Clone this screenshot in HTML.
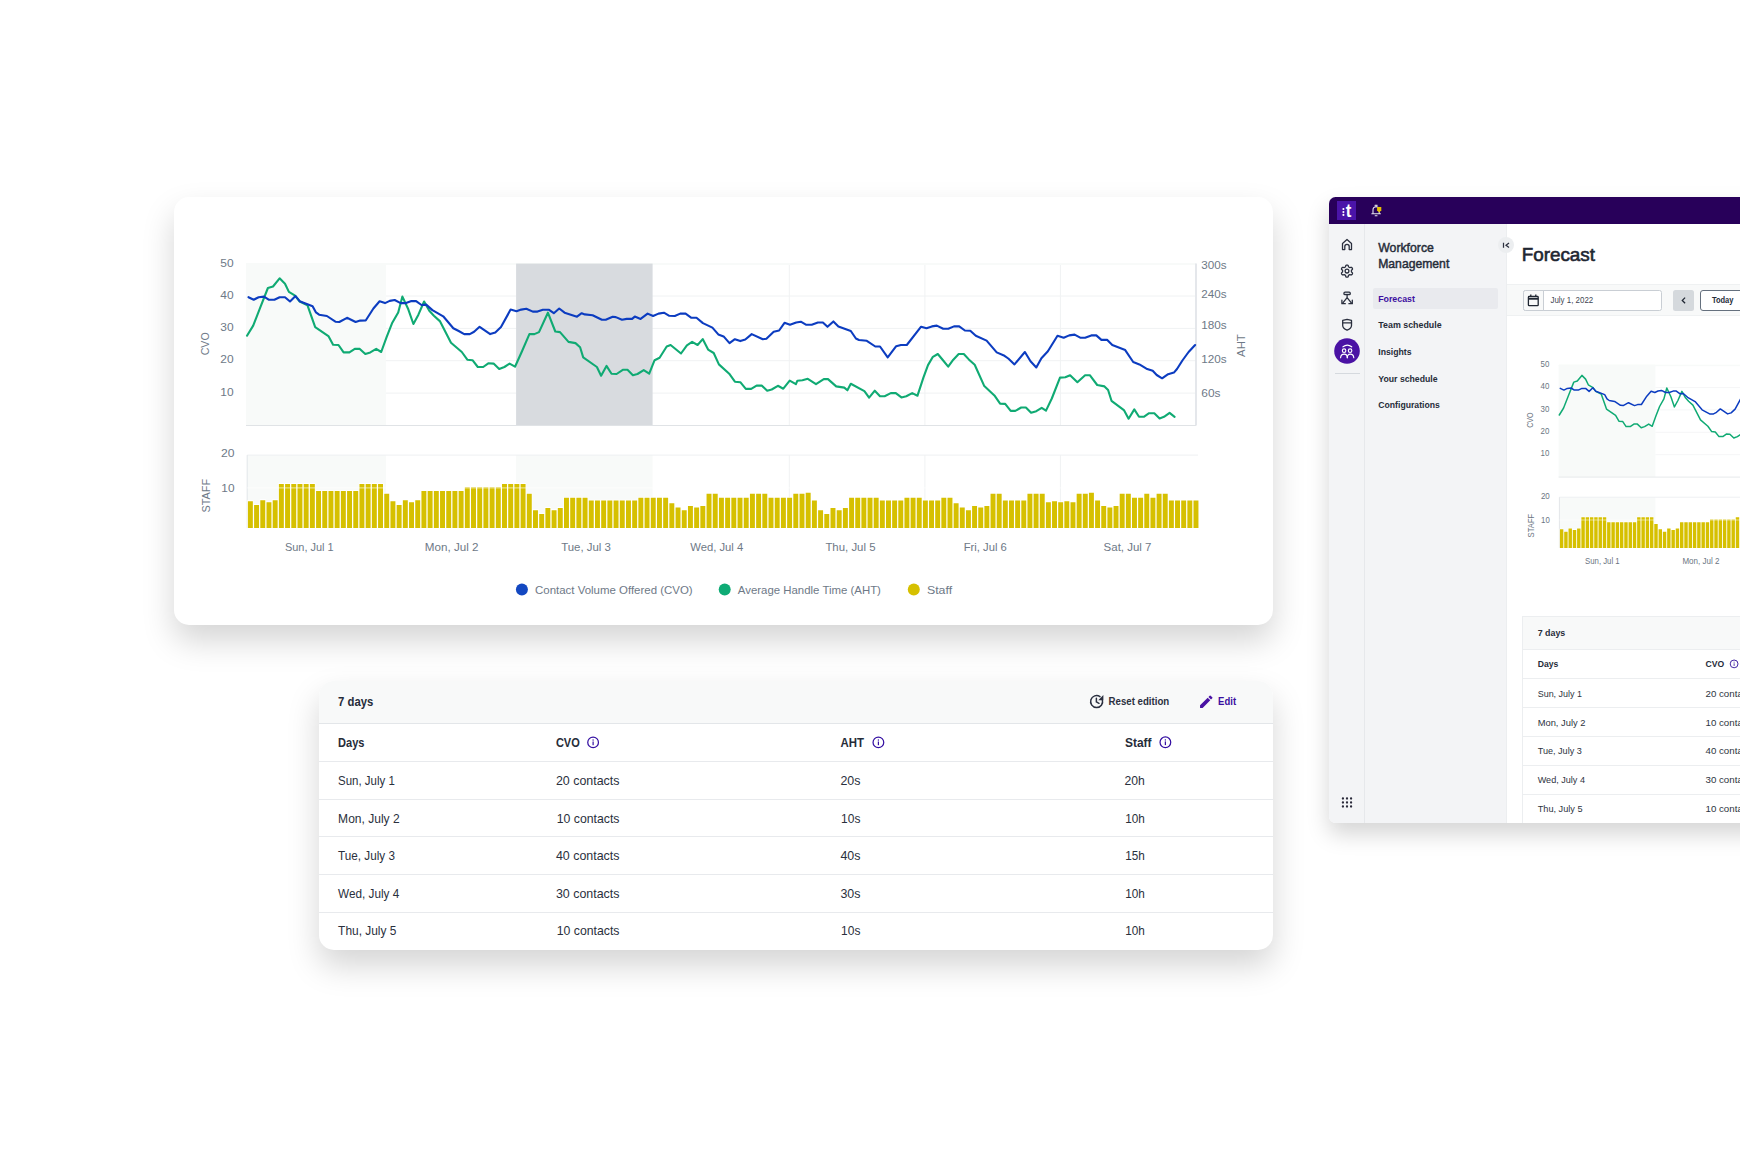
<!DOCTYPE html>
<html><head><meta charset="utf-8"><title>Forecast</title>
<style>
html,body{margin:0;padding:0;background:#fff}
body{width:1740px;height:1160px;position:relative;overflow:hidden;font-family:"Liberation Sans", sans-serif}
svg text{font-family:"Liberation Sans", sans-serif}
.card{position:absolute;background:#fff;border-radius:15px;box-shadow:0 16px 32px rgba(0,0,0,0.167)}
.c{position:absolute;font-size:11.7px;line-height:20px;color:#2a313e;white-space:nowrap}
.c.b{font-weight:bold;color:#222a36;font-size:11.2px;letter-spacing:-0.1px}
.c.s{font-size:10px;letter-spacing:-0.2px}
.c.p{color:#4a1aa3}
.t{position:absolute;white-space:nowrap}
</style></head><body>
<div class="card" style="left:174px;top:197px;width:1099px;height:428px">
<svg style="position:absolute;left:0;top:0" width="1099" height="428" viewBox="174 197 1099 428">
<rect x="246.0" y="262.9" width="950.0" height="2.1" fill="#f8faf9"/>
<rect x="246.0" y="262.9" width="139.9" height="162.6" fill="#f8faf9"/>
<rect x="247.2" y="455.1" width="138.7" height="72.8" fill="#f8faf9"/>
<line x1="385.9" x2="1196.0" y1="296.0" y2="296.0" stroke="#f0f2f3" stroke-width="1"/>
<line x1="385.9" x2="1196.0" y1="328.4" y2="328.4" stroke="#f0f2f3" stroke-width="1"/>
<line x1="385.9" x2="1196.0" y1="360.7" y2="360.7" stroke="#f0f2f3" stroke-width="1"/>
<line x1="385.9" x2="1196.0" y1="393.1" y2="393.1" stroke="#f0f2f3" stroke-width="1"/>
<line x1="789.3" x2="789.3" y1="265.0" y2="425.5" stroke="#f0f2f3" stroke-width="1"/>
<line x1="789.3" x2="789.3" y1="455.1" y2="527.9" stroke="#f0f2f3" stroke-width="1"/>
<line x1="924.9" x2="924.9" y1="265.0" y2="425.5" stroke="#f0f2f3" stroke-width="1"/>
<line x1="924.9" x2="924.9" y1="455.1" y2="527.9" stroke="#f0f2f3" stroke-width="1"/>
<line x1="1060.4" x2="1060.4" y1="265.0" y2="425.5" stroke="#f0f2f3" stroke-width="1"/>
<line x1="1060.4" x2="1060.4" y1="455.1" y2="527.9" stroke="#f0f2f3" stroke-width="1"/>
<rect x="516.1" y="263.6" width="136.5" height="161.9" fill="#d8dbdf"/>
<rect x="516.1" y="455.1" width="136.5" height="72.8" fill="#f8faf9"/>
<line x1="246.0" x2="1196.0" y1="425.5" y2="425.5" stroke="#e0e3e6" stroke-width="1"/>
<line x1="1196.0" x2="1196.0" y1="263.6" y2="425.5" stroke="#e2e5e9" stroke-width="1.8"/>
<line x1="247.2" x2="1198.0" y1="455.1" y2="455.1" stroke="#eef0f2" stroke-width="1"/>
<line x1="247.2" x2="247.2" y1="455.1" y2="527.9" stroke="#e3e6e9" stroke-width="1"/>
<path d="M247.30 527.9V500.3H253.45V527.9ZM253.50 527.9V504.0H259.65V527.9ZM259.70 527.9V499.3H265.85V527.9ZM265.89 527.9V501.4H272.04V527.9ZM272.09 527.9V499.3H278.24V527.9ZM278.29 527.9V483.1H284.44V527.9ZM284.49 527.9V483.1H290.64V527.9ZM290.69 527.9V483.1H296.84V527.9ZM296.88 527.9V483.1H303.03V527.9ZM303.08 527.9V483.1H309.23V527.9ZM309.28 527.9V483.1H315.43V527.9ZM315.48 527.9V490.1H321.63V527.9ZM321.68 527.9V490.1H327.83V527.9ZM327.87 527.9V490.1H334.02V527.9ZM334.07 527.9V490.1H340.22V527.9ZM340.27 527.9V490.1H346.42V527.9ZM346.47 527.9V490.1H352.62V527.9ZM352.67 527.9V490.1H358.82V527.9ZM358.86 527.9V483.1H365.01V527.9ZM365.06 527.9V483.1H371.21V527.9ZM371.26 527.9V483.1H377.41V527.9ZM377.46 527.9V483.1H383.61V527.9ZM383.66 527.9V492.9H389.81V527.9ZM389.85 527.9V500.3H396.00V527.9ZM396.05 527.9V504.0H402.20V527.9ZM402.25 527.9V499.3H408.40V527.9ZM408.45 527.9V501.4H414.60V527.9ZM414.65 527.9V499.3H420.80V527.9ZM420.84 527.9V490.1H426.99V527.9ZM427.04 527.9V490.1H433.19V527.9ZM433.24 527.9V490.1H439.39V527.9ZM439.44 527.9V490.1H445.59V527.9ZM445.64 527.9V490.1H451.79V527.9ZM451.83 527.9V490.1H457.98V527.9ZM458.03 527.9V490.1H464.18V527.9ZM464.23 527.9V486.3H470.38V527.9ZM470.43 527.9V486.3H476.58V527.9ZM476.63 527.9V486.3H482.78V527.9ZM482.82 527.9V486.3H488.97V527.9ZM489.02 527.9V486.3H495.17V527.9ZM495.22 527.9V486.3H501.37V527.9ZM501.42 527.9V483.1H507.57V527.9ZM507.62 527.9V483.1H513.77V527.9ZM513.81 527.9V483.1H519.96V527.9ZM520.01 527.9V483.1H526.16V527.9ZM526.21 527.9V492.9H532.36V527.9ZM532.41 527.9V509.3H538.56V527.9ZM538.61 527.9V513.1H544.76V527.9ZM544.80 527.9V507.1H550.95V527.9ZM551.00 527.9V509.3H557.15V527.9ZM557.20 527.9V507.1H563.35V527.9ZM563.40 527.9V496.9H569.55V527.9ZM569.60 527.9V496.9H575.75V527.9ZM575.79 527.9V496.9H581.94V527.9ZM581.99 527.9V496.9H588.14V527.9ZM588.19 527.9V499.7H594.34V527.9ZM594.39 527.9V499.7H600.54V527.9ZM600.59 527.9V499.7H606.74V527.9ZM606.78 527.9V499.7H612.93V527.9ZM612.98 527.9V499.7H619.13V527.9ZM619.18 527.9V499.7H625.33V527.9ZM625.38 527.9V499.7H631.53V527.9ZM631.58 527.9V499.7H637.73V527.9ZM637.77 527.9V496.9H643.92V527.9ZM643.97 527.9V496.9H650.12V527.9ZM650.17 527.9V496.9H656.32V527.9ZM656.37 527.9V496.9H662.52V527.9ZM662.57 527.9V496.9H668.72V527.9ZM668.76 527.9V502.3H674.91V527.9ZM674.96 527.9V506.5H681.11V527.9ZM681.16 527.9V509.3H687.31V527.9ZM687.36 527.9V505.0H693.51V527.9ZM693.56 527.9V506.5H699.71V527.9ZM699.75 527.9V505.0H705.90V527.9ZM705.95 527.9V492.9H712.10V527.9ZM712.15 527.9V492.9H718.30V527.9ZM718.35 527.9V496.9H724.50V527.9ZM724.55 527.9V496.9H730.70V527.9ZM730.74 527.9V496.9H736.89V527.9ZM736.94 527.9V496.9H743.09V527.9ZM743.14 527.9V496.9H749.29V527.9ZM749.34 527.9V492.9H755.49V527.9ZM755.54 527.9V492.9H761.69V527.9ZM761.73 527.9V492.9H767.88V527.9ZM767.93 527.9V496.9H774.08V527.9ZM774.13 527.9V496.9H780.28V527.9ZM780.33 527.9V496.9H786.48V527.9ZM786.53 527.9V496.9H792.68V527.9ZM792.72 527.9V492.9H798.87V527.9ZM798.92 527.9V492.9H805.07V527.9ZM805.12 527.9V491.8H811.27V527.9ZM811.32 527.9V499.7H817.47V527.9ZM817.52 527.9V509.3H823.67V527.9ZM823.71 527.9V513.1H829.86V527.9ZM829.91 527.9V507.1H836.06V527.9ZM836.11 527.9V509.3H842.26V527.9ZM842.31 527.9V507.1H848.46V527.9ZM848.51 527.9V496.9H854.66V527.9ZM854.65 527.9V496.9H860.80V527.9ZM860.80 527.9V496.9H866.95V527.9ZM866.95 527.9V496.9H873.10V527.9ZM873.10 527.9V496.9H879.25V527.9ZM879.25 527.9V499.7H885.40V527.9ZM885.40 527.9V499.7H891.55V527.9ZM891.55 527.9V499.7H897.70V527.9ZM897.70 527.9V499.7H903.85V527.9ZM903.85 527.9V496.9H910.00V527.9ZM910.00 527.9V496.9H916.15V527.9ZM916.15 527.9V496.9H922.30V527.9ZM922.30 527.9V499.7H928.45V527.9ZM928.45 527.9V499.7H934.60V527.9ZM934.60 527.9V499.7H940.75V527.9ZM940.75 527.9V496.9H946.90V527.9ZM946.90 527.9V496.9H953.05V527.9ZM953.05 527.9V502.3H959.20V527.9ZM959.20 527.9V506.5H965.35V527.9ZM965.35 527.9V509.3H971.50V527.9ZM971.50 527.9V505.0H977.65V527.9ZM977.65 527.9V506.5H983.80V527.9ZM983.80 527.9V505.0H989.95V527.9ZM989.95 527.9V492.9H996.10V527.9ZM996.10 527.9V492.9H1002.25V527.9ZM1002.25 527.9V499.7H1008.40V527.9ZM1008.40 527.9V499.7H1014.55V527.9ZM1014.55 527.9V499.7H1020.70V527.9ZM1020.70 527.9V499.7H1026.85V527.9ZM1026.85 527.9V492.9H1033.00V527.9ZM1033.00 527.9V492.9H1039.15V527.9ZM1039.15 527.9V492.9H1045.30V527.9ZM1045.30 527.9V501.4H1051.45V527.9ZM1051.45 527.9V500.3H1057.60V527.9ZM1057.60 527.9V501.4H1063.75V527.9ZM1063.75 527.9V500.3H1069.90V527.9ZM1069.90 527.9V501.4H1076.05V527.9ZM1076.05 527.9V492.9H1082.20V527.9ZM1082.20 527.9V492.9H1088.35V527.9ZM1088.35 527.9V491.8H1094.50V527.9ZM1094.50 527.9V499.7H1100.65V527.9ZM1100.65 527.9V505.0H1106.80V527.9ZM1106.80 527.9V506.5H1112.95V527.9ZM1112.95 527.9V505.0H1119.10V527.9ZM1119.10 527.9V492.9H1125.25V527.9ZM1125.25 527.9V492.9H1131.40V527.9ZM1131.40 527.9V496.9H1137.55V527.9ZM1137.55 527.9V496.9H1143.70V527.9ZM1143.70 527.9V492.9H1149.85V527.9ZM1149.85 527.9V496.9H1156.00V527.9ZM1156.00 527.9V492.9H1162.15V527.9ZM1162.15 527.9V492.9H1168.30V527.9ZM1168.30 527.9V499.7H1174.45V527.9ZM1174.45 527.9V499.7H1180.60V527.9ZM1180.60 527.9V499.7H1186.75V527.9ZM1186.75 527.9V499.7H1192.90V527.9ZM1192.90 527.9V499.7H1199.05V527.9Z" fill="#fff"/>
<path d="M247.90 527.9V501.2H252.85V527.9ZM254.10 527.9V504.9H259.05V527.9ZM260.30 527.9V500.2H265.25V527.9ZM266.49 527.9V502.3H271.44V527.9ZM272.69 527.9V500.2H277.64V527.9ZM278.89 527.9V484.0H283.84V527.9ZM285.09 527.9V484.0H290.04V527.9ZM291.29 527.9V484.0H296.24V527.9ZM297.48 527.9V484.0H302.43V527.9ZM303.68 527.9V484.0H308.63V527.9ZM309.88 527.9V484.0H314.83V527.9ZM316.08 527.9V491.0H321.03V527.9ZM322.28 527.9V491.0H327.23V527.9ZM328.47 527.9V491.0H333.42V527.9ZM334.67 527.9V491.0H339.62V527.9ZM340.87 527.9V491.0H345.82V527.9ZM347.07 527.9V491.0H352.02V527.9ZM353.27 527.9V491.0H358.22V527.9ZM359.46 527.9V484.0H364.41V527.9ZM365.66 527.9V484.0H370.61V527.9ZM371.86 527.9V484.0H376.81V527.9ZM378.06 527.9V484.0H383.01V527.9ZM384.26 527.9V493.8H389.21V527.9ZM390.45 527.9V501.2H395.40V527.9ZM396.65 527.9V504.9H401.60V527.9ZM402.85 527.9V500.2H407.80V527.9ZM409.05 527.9V502.3H414.00V527.9ZM415.25 527.9V500.2H420.20V527.9ZM421.44 527.9V491.0H426.39V527.9ZM427.64 527.9V491.0H432.59V527.9ZM433.84 527.9V491.0H438.79V527.9ZM440.04 527.9V491.0H444.99V527.9ZM446.24 527.9V491.0H451.19V527.9ZM452.43 527.9V491.0H457.38V527.9ZM458.63 527.9V491.0H463.58V527.9ZM464.83 527.9V487.2H469.78V527.9ZM471.03 527.9V487.2H475.98V527.9ZM477.23 527.9V487.2H482.18V527.9ZM483.42 527.9V487.2H488.37V527.9ZM489.62 527.9V487.2H494.57V527.9ZM495.82 527.9V487.2H500.77V527.9ZM502.02 527.9V484.0H506.97V527.9ZM508.22 527.9V484.0H513.17V527.9ZM514.41 527.9V484.0H519.36V527.9ZM520.61 527.9V484.0H525.56V527.9ZM526.81 527.9V493.8H531.76V527.9ZM533.01 527.9V510.2H537.96V527.9ZM539.21 527.9V514.0H544.16V527.9ZM545.40 527.9V508.0H550.35V527.9ZM551.60 527.9V510.2H556.55V527.9ZM557.80 527.9V508.0H562.75V527.9ZM564.00 527.9V497.8H568.95V527.9ZM570.20 527.9V497.8H575.15V527.9ZM576.39 527.9V497.8H581.34V527.9ZM582.59 527.9V497.8H587.54V527.9ZM588.79 527.9V500.6H593.74V527.9ZM594.99 527.9V500.6H599.94V527.9ZM601.19 527.9V500.6H606.14V527.9ZM607.38 527.9V500.6H612.33V527.9ZM613.58 527.9V500.6H618.53V527.9ZM619.78 527.9V500.6H624.73V527.9ZM625.98 527.9V500.6H630.93V527.9ZM632.18 527.9V500.6H637.13V527.9ZM638.37 527.9V497.8H643.32V527.9ZM644.57 527.9V497.8H649.52V527.9ZM650.77 527.9V497.8H655.72V527.9ZM656.97 527.9V497.8H661.92V527.9ZM663.17 527.9V497.8H668.12V527.9ZM669.36 527.9V503.2H674.31V527.9ZM675.56 527.9V507.4H680.51V527.9ZM681.76 527.9V510.2H686.71V527.9ZM687.96 527.9V505.9H692.91V527.9ZM694.16 527.9V507.4H699.11V527.9ZM700.35 527.9V505.9H705.30V527.9ZM706.55 527.9V493.8H711.50V527.9ZM712.75 527.9V493.8H717.70V527.9ZM718.95 527.9V497.8H723.90V527.9ZM725.15 527.9V497.8H730.10V527.9ZM731.34 527.9V497.8H736.29V527.9ZM737.54 527.9V497.8H742.49V527.9ZM743.74 527.9V497.8H748.69V527.9ZM749.94 527.9V493.8H754.89V527.9ZM756.14 527.9V493.8H761.09V527.9ZM762.33 527.9V493.8H767.28V527.9ZM768.53 527.9V497.8H773.48V527.9ZM774.73 527.9V497.8H779.68V527.9ZM780.93 527.9V497.8H785.88V527.9ZM787.13 527.9V497.8H792.08V527.9ZM793.32 527.9V493.8H798.27V527.9ZM799.52 527.9V493.8H804.47V527.9ZM805.72 527.9V492.7H810.67V527.9ZM811.92 527.9V500.6H816.87V527.9ZM818.12 527.9V510.2H823.07V527.9ZM824.31 527.9V514.0H829.26V527.9ZM830.51 527.9V508.0H835.46V527.9ZM836.71 527.9V510.2H841.66V527.9ZM842.91 527.9V508.0H847.86V527.9ZM849.11 527.9V497.8H854.06V527.9ZM855.25 527.9V497.8H860.20V527.9ZM861.40 527.9V497.8H866.35V527.9ZM867.55 527.9V497.8H872.50V527.9ZM873.70 527.9V497.8H878.65V527.9ZM879.85 527.9V500.6H884.80V527.9ZM886.00 527.9V500.6H890.95V527.9ZM892.15 527.9V500.6H897.10V527.9ZM898.30 527.9V500.6H903.25V527.9ZM904.45 527.9V497.8H909.40V527.9ZM910.60 527.9V497.8H915.55V527.9ZM916.75 527.9V497.8H921.70V527.9ZM922.90 527.9V500.6H927.85V527.9ZM929.05 527.9V500.6H934.00V527.9ZM935.20 527.9V500.6H940.15V527.9ZM941.35 527.9V497.8H946.30V527.9ZM947.50 527.9V497.8H952.45V527.9ZM953.65 527.9V503.2H958.60V527.9ZM959.80 527.9V507.4H964.75V527.9ZM965.95 527.9V510.2H970.90V527.9ZM972.10 527.9V505.9H977.05V527.9ZM978.25 527.9V507.4H983.20V527.9ZM984.40 527.9V505.9H989.35V527.9ZM990.55 527.9V493.8H995.50V527.9ZM996.70 527.9V493.8H1001.65V527.9ZM1002.85 527.9V500.6H1007.80V527.9ZM1009.00 527.9V500.6H1013.95V527.9ZM1015.15 527.9V500.6H1020.10V527.9ZM1021.30 527.9V500.6H1026.25V527.9ZM1027.45 527.9V493.8H1032.40V527.9ZM1033.60 527.9V493.8H1038.55V527.9ZM1039.75 527.9V493.8H1044.70V527.9ZM1045.90 527.9V502.3H1050.85V527.9ZM1052.05 527.9V501.2H1057.00V527.9ZM1058.20 527.9V502.3H1063.15V527.9ZM1064.35 527.9V501.2H1069.30V527.9ZM1070.50 527.9V502.3H1075.45V527.9ZM1076.65 527.9V493.8H1081.60V527.9ZM1082.80 527.9V493.8H1087.75V527.9ZM1088.95 527.9V492.7H1093.90V527.9ZM1095.10 527.9V500.6H1100.05V527.9ZM1101.25 527.9V505.9H1106.20V527.9ZM1107.40 527.9V507.4H1112.35V527.9ZM1113.55 527.9V505.9H1118.50V527.9ZM1119.70 527.9V493.8H1124.65V527.9ZM1125.85 527.9V493.8H1130.80V527.9ZM1132.00 527.9V497.8H1136.95V527.9ZM1138.15 527.9V497.8H1143.10V527.9ZM1144.30 527.9V493.8H1149.25V527.9ZM1150.45 527.9V497.8H1155.40V527.9ZM1156.60 527.9V493.8H1161.55V527.9ZM1162.75 527.9V493.8H1167.70V527.9ZM1168.90 527.9V500.6H1173.85V527.9ZM1175.05 527.9V500.6H1180.00V527.9ZM1181.20 527.9V500.6H1186.15V527.9ZM1187.35 527.9V500.6H1192.30V527.9ZM1193.50 527.9V500.6H1198.45V527.9Z" fill="#d6c000"/>
<line x1="247.2" x2="1198.0" y1="487.9" y2="487.9" stroke="#ffffff" stroke-opacity="0.5" stroke-width="1.2"/>
<polyline points="247.0,335.7 253.2,325.6 260.2,307.7 267.9,288.0 273.0,286.5 279.6,278.3 285.0,283.7 288.9,291.9 295.1,295.6 299.7,301.5 307.5,305.4 315.2,327.1 328.4,336.1 333.1,344.7 338.5,345.0 343.6,352.4 349.4,352.4 354.8,348.9 359.8,348.9 365.3,354.0 370.3,352.4 376.2,348.9 381.2,352.0 386.6,337.2 392.0,323.3 398.2,312.4 402.4,296.6 408.3,309.3 413.4,324.0 418.4,314.7 424.1,301.5 429.3,310.8 433.9,315.8 440.1,321.4 451.0,342.7 461.8,352.0 467.3,359.7 472.5,360.2 477.8,367.0 483.2,367.0 488.3,363.3 493.6,363.6 499.2,369.0 504.4,367.0 509.6,363.6 515.0,366.7 522.0,351.2 529.4,334.1 534.4,334.1 539.0,332.1 547.9,312.7 555.3,331.5 560.0,332.1 568.5,341.9 575.5,343.1 580.1,347.3 583.2,357.4 596.9,367.0 601.1,375.7 606.5,365.9 611.5,373.7 616.6,374.0 622.8,369.8 627.5,369.8 632.9,375.2 637.5,374.0 643.7,370.1 649.2,373.7 654.6,360.2 659.6,357.7 666.7,346.5 670.6,345.0 681.0,353.5 686.9,345.3 692.1,341.9 697.6,345.0 702.7,339.1 708.1,349.6 713.7,353.0 718.9,364.4 729.2,373.7 734.9,381.7 740.3,382.2 745.8,388.9 751.2,388.9 756.6,385.6 761.7,385.6 767.2,390.7 771.7,389.5 777.9,385.8 783.3,388.7 789.7,380.7 795.9,384.2 797.4,380.7 802.4,380.3 807.8,378.8 816.0,384.2 823.8,379.1 828.0,379.1 836.2,386.4 844.3,387.6 847.4,390.3 850.8,383.8 864.4,391.1 869.1,397.7 874.8,390.7 880.0,396.2 884.6,396.2 890.8,393.1 895.8,393.1 901.4,397.4 906.3,396.2 912.2,393.1 917.5,395.7 923.4,377.6 928.0,365.1 932.9,356.8 937.8,354.0 943.2,360.5 948.2,366.7 953.3,359.7 958.7,354.0 963.8,354.0 968.8,359.4 974.7,364.8 984.3,386.1 994.4,395.4 1000.1,403.6 1005.2,403.9 1010.7,410.9 1015.3,410.9 1021.2,407.5 1025.9,407.5 1031.1,412.8 1036.3,411.2 1041.7,407.8 1046.0,410.6 1051.8,398.5 1060.0,377.6 1065.3,377.2 1070.1,375.2 1077.4,382.2 1085.1,375.2 1089.8,375.2 1097.2,385.0 1104.5,386.4 1108.1,390.0 1111.5,400.8 1123.9,410.1 1128.6,418.7 1134.3,409.4 1139.0,416.8 1143.8,416.8 1149.1,413.2 1154.3,413.2 1159.6,418.4 1164.0,416.8 1169.6,412.9 1174.6,416.8" fill="none" stroke="#10aa73" stroke-width="2.1" stroke-linejoin="round" stroke-linecap="round"/>
<polyline points="248.5,297.2 253.7,299.7 258.6,297.2 264.0,296.6 268.7,299.7 274.4,299.7 279.6,297.2 285.0,297.2 290.0,301.5 295.5,296.1 299.7,301.2 312.6,306.2 316.0,312.4 319.1,314.7 326.9,316.0 335.4,321.7 339.3,322.0 347.0,317.8 355.6,322.0 360.2,320.6 365.7,320.5 373.4,308.5 379.6,301.2 385.0,303.1 389.7,300.9 394.7,300.0 400.6,303.1 406.0,303.1 411.4,301.1 416.1,301.1 421.5,305.0 426.2,304.6 432.4,310.1 443.2,316.3 453.3,328.2 458.7,331.0 464.2,334.1 469.8,334.1 474.1,331.8 479.6,326.8 490.2,334.1 495.3,332.6 501.0,327.1 510.6,309.6 516.5,311.2 521.2,309.6 526.3,308.8 532.8,311.6 537.5,311.6 542.9,309.8 549.1,309.8 553.8,313.2 559.2,308.5 564.6,312.7 577.0,316.7 581.7,313.2 584.8,314.4 592.6,315.2 601.9,319.8 605.7,319.8 612.7,316.7 615.8,317.1 622.0,319.8 626.7,318.9 632.1,318.9 634.8,316.6 640.6,318.9 647.6,313.6 653.1,316.0 658.5,313.6 663.9,312.7 669.3,315.8 674.8,316.0 680.2,313.6 685.6,313.6 691.4,317.8 696.5,317.8 702.9,323.1 712.4,327.6 718.3,334.4 723.6,336.4 729.5,343.1 734.9,339.2 740.3,341.1 745.3,339.5 751.7,334.1 762.8,339.2 766.4,338.8 773.7,331.8 779.1,330.5 784.5,322.8 790.0,324.8 796.2,322.5 800.8,321.7 806.3,324.8 811.7,324.8 817.9,322.5 822.9,322.5 827.5,326.8 833.4,321.4 838.4,326.4 850.8,331.0 855.9,338.5 859.0,340.0 866.8,340.8 875.3,346.5 880.0,346.5 887.7,357.4 896.2,346.2 900.9,345.0 906.8,345.0 921.1,326.7 926.5,328.2 931.9,326.4 936.8,325.6 943.2,328.7 948.3,328.7 954.0,326.4 959.2,326.4 964.9,330.5 970.3,330.7 975.8,335.7 986.6,340.6 996.7,352.4 1004.5,355.8 1008.3,358.5 1014.5,364.4 1024.9,352.0 1030.5,361.3 1036.3,367.5 1041.4,358.2 1047.9,351.2 1057.5,335.7 1063.7,337.7 1069.2,335.4 1074.6,334.6 1080.2,337.7 1085.1,337.7 1091.3,335.4 1096.3,335.4 1101.4,339.9 1107.3,339.9 1112.3,345.0 1125.2,350.1 1133.2,362.0 1139.4,364.4 1146.4,368.7 1152.7,370.8 1156.7,375.0 1162.1,378.3 1168.1,374.2 1173.9,372.6 1177.0,369.0 1182.4,360.5 1188.6,352.0 1195.1,345.0" fill="none" stroke="#0c3cc0" stroke-width="2.1" stroke-linejoin="round" stroke-linecap="round"/>
<text x="220.3" y="267.1" font-size="11.3" fill="#6e7987" textLength="13.3" lengthAdjust="spacingAndGlyphs">50</text>
<text x="220.3" y="299.2" font-size="11.3" fill="#6e7987" textLength="13.3" lengthAdjust="spacingAndGlyphs">40</text>
<text x="220.3" y="331.4" font-size="11.3" fill="#6e7987" textLength="13.3" lengthAdjust="spacingAndGlyphs">30</text>
<text x="220.3" y="363.3" font-size="11.3" fill="#6e7987" textLength="13.3" lengthAdjust="spacingAndGlyphs">20</text>
<text x="220.3" y="396.0" font-size="11.3" fill="#6e7987" textLength="13.3" lengthAdjust="spacingAndGlyphs">10</text>
<text x="1201.3" y="268.9" font-size="11.3" fill="#6e7987" textLength="25.3" lengthAdjust="spacingAndGlyphs">300s</text>
<text x="1201.3" y="297.9" font-size="11.3" fill="#6e7987" textLength="25.3" lengthAdjust="spacingAndGlyphs">240s</text>
<text x="1201.3" y="329.4" font-size="11.3" fill="#6e7987" textLength="25.4" lengthAdjust="spacingAndGlyphs">180s</text>
<text x="1201.3" y="363.0" font-size="11.3" fill="#6e7987" textLength="25.4" lengthAdjust="spacingAndGlyphs">120s</text>
<text x="1201.3" y="396.6" font-size="11.3" fill="#6e7987" textLength="19.2" lengthAdjust="spacingAndGlyphs">60s</text>
<text x="221.0" y="457.1" font-size="11.3" fill="#6e7987" textLength="13.5" lengthAdjust="spacingAndGlyphs">20</text>
<text x="221.3" y="491.7" font-size="11.3" fill="#6e7987" textLength="13.2" lengthAdjust="spacingAndGlyphs">10</text>
<text transform="translate(209.0,343.8) rotate(-90)" font-size="11.3" fill="#6e7987" text-anchor="middle" textLength="23" lengthAdjust="spacingAndGlyphs">CVO</text>
<text transform="translate(209.9,495.7) rotate(-90)" font-size="11.3" fill="#6e7987" text-anchor="middle" textLength="33.8" lengthAdjust="spacingAndGlyphs">STAFF</text>
<text transform="translate(1245.2,345.6) rotate(-90)" font-size="11.3" fill="#6e7987" text-anchor="middle" textLength="22.6" lengthAdjust="spacingAndGlyphs">AHT</text>
<text x="284.9" y="551.2" font-size="11.3" fill="#6e7987" textLength="48.8" lengthAdjust="spacingAndGlyphs">Sun, Jul 1</text>
<text x="424.8" y="551.2" font-size="11.3" fill="#6e7987" textLength="53.7" lengthAdjust="spacingAndGlyphs">Mon, Jul 2</text>
<text x="561.2" y="551.2" font-size="11.3" fill="#6e7987" textLength="49.7" lengthAdjust="spacingAndGlyphs">Tue, Jul 3</text>
<text x="690.3" y="551.2" font-size="11.3" fill="#6e7987" textLength="52.9" lengthAdjust="spacingAndGlyphs">Wed, Jul 4</text>
<text x="825.4" y="551.2" font-size="11.3" fill="#6e7987" textLength="50.1" lengthAdjust="spacingAndGlyphs">Thu, Jul 5</text>
<text x="963.7" y="551.2" font-size="11.3" fill="#6e7987" textLength="43.1" lengthAdjust="spacingAndGlyphs">Fri, Jul 6</text>
<text x="1103.6" y="551.2" font-size="11.3" fill="#6e7987" textLength="47.9" lengthAdjust="spacingAndGlyphs">Sat, Jul 7</text>
<circle cx="521.9" cy="589.5" r="6" fill="#1348c1"/>
<text x="535.0" y="593.5" font-size="11.3" fill="#6e7987" textLength="157.7" lengthAdjust="spacingAndGlyphs">Contact Volume Offered (CVO)</text>
<circle cx="724.7" cy="589.5" r="6" fill="#0eab75"/>
<text x="737.8" y="593.5" font-size="11.3" fill="#6e7987" textLength="143.1" lengthAdjust="spacingAndGlyphs">Average Handle Time (AHT)</text>
<circle cx="913.8" cy="589.5" r="6" fill="#d6c000"/>
<text x="926.9" y="593.5" font-size="11.3" fill="#6e7987" textLength="25.2" lengthAdjust="spacingAndGlyphs">Staff</text>
</svg>
</div>
<div class="card" style="left:319.3px;top:681.0px;width:953.4px;height:269.2px;overflow:hidden">
<div style="position:absolute;left:0;top:0;width:100%;height:42.9px;background:#f8f9f9;border-bottom:1px solid #e3e6e9;box-sizing:border-box"></div>
<div style="position:absolute;left:0;top:79.9px;width:100%;height:1px;background:#e8eaed"></div>
<div style="position:absolute;left:0;top:117.8px;width:100%;height:1px;background:#e8eaed"></div>
<div style="position:absolute;left:0;top:155.3px;width:100%;height:1px;background:#e8eaed"></div>
<div style="position:absolute;left:0;top:193.1px;width:100%;height:1px;background:#e8eaed"></div>
<div style="position:absolute;left:0;top:230.7px;width:100%;height:1px;background:#e8eaed"></div>
<svg style="position:absolute;left:0;top:0" width="953.4" height="269.2" viewBox="319.3 681.0 953.4 269.2"><text x="338.4" y="706.2" font-size="12" fill="#262c39" textLength="35.2" lengthAdjust="spacingAndGlyphs" font-weight="bold">7 days</text>
<text x="338.4" y="747.0" font-size="12" fill="#262c39" textLength="26.4" lengthAdjust="spacingAndGlyphs" font-weight="bold">Days</text>
<text x="556.2" y="747.0" font-size="12" fill="#262c39" textLength="23.9" lengthAdjust="spacingAndGlyphs" font-weight="bold">CVO</text>
<text x="840.7" y="747.0" font-size="12" fill="#262c39" textLength="23.5" lengthAdjust="spacingAndGlyphs" font-weight="bold">AHT</text>
<text x="1125.3" y="746.9" font-size="12" fill="#262c39" textLength="26.5" lengthAdjust="spacingAndGlyphs" font-weight="bold">Staff</text>
<text x="338.4" y="784.7" font-size="12" fill="#2a303d" textLength="56.7" lengthAdjust="spacingAndGlyphs">Sun, July 1</text>
<text x="556.2" y="784.7" font-size="12" fill="#2a303d" textLength="63.6" lengthAdjust="spacingAndGlyphs">20 contacts</text>
<text x="840.7" y="784.7" font-size="12" fill="#2a303d" textLength="20.0" lengthAdjust="spacingAndGlyphs">20s</text>
<text x="1124.9" y="784.7" font-size="12" fill="#2a303d" textLength="20.3" lengthAdjust="spacingAndGlyphs">20h</text>
<text x="338.4" y="822.8" font-size="12" fill="#2a303d" textLength="61.5" lengthAdjust="spacingAndGlyphs">Mon, July 2</text>
<text x="557.0" y="822.8" font-size="12" fill="#2a303d" textLength="62.8" lengthAdjust="spacingAndGlyphs">10 contacts</text>
<text x="841.4" y="822.8" font-size="12" fill="#2a303d" textLength="19.3" lengthAdjust="spacingAndGlyphs">10s</text>
<text x="1125.6" y="822.8" font-size="12" fill="#2a303d" textLength="19.6" lengthAdjust="spacingAndGlyphs">10h</text>
<text x="338.4" y="860.3" font-size="12" fill="#2a303d" textLength="56.8" lengthAdjust="spacingAndGlyphs">Tue, July 3</text>
<text x="556.2" y="860.3" font-size="12" fill="#2a303d" textLength="63.6" lengthAdjust="spacingAndGlyphs">40 contacts</text>
<text x="840.7" y="860.3" font-size="12" fill="#2a303d" textLength="20.0" lengthAdjust="spacingAndGlyphs">40s</text>
<text x="1125.6" y="860.3" font-size="12" fill="#2a303d" textLength="19.6" lengthAdjust="spacingAndGlyphs">15h</text>
<text x="338.4" y="897.9" font-size="12" fill="#2a303d" textLength="61.1" lengthAdjust="spacingAndGlyphs">Wed, July 4</text>
<text x="556.2" y="897.9" font-size="12" fill="#2a303d" textLength="63.6" lengthAdjust="spacingAndGlyphs">30 contacts</text>
<text x="840.7" y="897.9" font-size="12" fill="#2a303d" textLength="20.0" lengthAdjust="spacingAndGlyphs">30s</text>
<text x="1125.6" y="897.9" font-size="12" fill="#2a303d" textLength="19.6" lengthAdjust="spacingAndGlyphs">10h</text>
<text x="338.4" y="935.3" font-size="12" fill="#2a303d" textLength="58.3" lengthAdjust="spacingAndGlyphs">Thu, July 5</text>
<text x="557.0" y="935.3" font-size="12" fill="#2a303d" textLength="62.8" lengthAdjust="spacingAndGlyphs">10 contacts</text>
<text x="841.4" y="935.3" font-size="12" fill="#2a303d" textLength="19.3" lengthAdjust="spacingAndGlyphs">10s</text>
<text x="1125.6" y="935.3" font-size="12" fill="#2a303d" textLength="19.6" lengthAdjust="spacingAndGlyphs">10h</text>
<text x="1108.9" y="704.9" font-size="10.4" fill="#2b3040" textLength="60.7" lengthAdjust="spacingAndGlyphs" font-weight="bold">Reset edition</text>
<text x="1218.4" y="704.9" font-size="10.4" fill="#3b10a0" textLength="18.0" lengthAdjust="spacingAndGlyphs" font-weight="bold">Edit</text>
<g><circle cx="593.4" cy="742.4" r="5.35" fill="none" stroke="#3510a2" stroke-width="1.25"/><rect x="592.80" y="741.50" width="1.2" height="3.7" fill="#3510a2"/><rect x="592.80" y="739.40" width="1.2" height="1.25" fill="#3510a2"/></g>
<g><circle cx="878.7" cy="742.4" r="5.35" fill="none" stroke="#3510a2" stroke-width="1.25"/><rect x="878.10" y="741.50" width="1.2" height="3.7" fill="#3510a2"/><rect x="878.10" y="739.40" width="1.2" height="1.25" fill="#3510a2"/></g>
<g><circle cx="1165.7" cy="742.3" r="5.35" fill="none" stroke="#3510a2" stroke-width="1.25"/><rect x="1165.10" y="741.40" width="1.2" height="3.7" fill="#3510a2"/><rect x="1165.10" y="739.30" width="1.2" height="1.25" fill="#3510a2"/></g>
<g fill="none" stroke="#2b3040" stroke-width="1.500" stroke-linecap="round" stroke-linejoin="round"><path d="M1102.700 699.900A6 6 0 1 1 1100.300 696.600"/><path d="M1096.700 698.300V701.900L1099.300 703.300"/></g><path d="M1103.700 695.100V700.200H1098.600Z" fill="#2b3040"/>
<g transform="translate(1198.300,693.400) scale(0.690)"><path d="M3 17.250V21h3.750L17.810 9.940l-3.750-3.750L3 17.250zM20.710 7.040a1 1 0 0 0 0-1.410l-2.340-2.340a1 1 0 0 0-1.410 0l-1.830 1.830 3.750 3.750 1.830-1.830z" fill="#4a12a4"/></g></svg>

</div>
<div class="card" style="left:319.3px;top:681.0px;width:953.4px;height:269.2px;background:none;z-index:-1"></div>
<div style="position:absolute;left:1329.0px;top:196.8px;width:440px;height:626px;border-radius:6.5px 0 0 6.5px;box-shadow:0 11px 22px rgba(0,0,0,0.167);overflow:hidden;background:#fff">
<div style="position:absolute;left:0.0px;top:0.0px;width:420.0px;height:27.0px;background:#28005a"></div>
<div style="position:absolute;left:8.0px;top:4.2px;width:19.0px;height:19.0px;background:#4a14a8"></div>
<div style="position:absolute;left:0.0px;top:27.0px;width:35.8px;height:600.0px;background:#f3f4f6;border-right:1px solid #e6e8eb;box-sizing:border-box"></div>
<div style="position:absolute;left:35.8px;top:27.0px;width:141.8px;height:600.0px;background:#f3f4f6;border-right:1px solid #eceef0;box-sizing:border-box"></div>
<div style="position:absolute;left:44.3px;top:91.1px;width:124.6px;height:20.7px;background:#e9eaee;border-radius:2px"></div>
<div style="position:absolute;left:5.9px;top:176.1px;width:24.9px;height:1.0px;background:#d5d9de"></div>
<div style="position:absolute;left:168.9px;top:40.2px;width:16.1px;height:16.1px;background:#eceef0;border-radius:50%"></div>
<div style="position:absolute;left:177.6px;top:87.0px;width:240.0px;height:32.6px;background:#f8f9f9;border-top:1px solid #eff1f2;border-bottom:1px solid #eff1f2;box-sizing:border-box"></div>
<div style="position:absolute;left:194.2px;top:93.6px;width:138.5px;height:20.4px;background:#fff;border:1px solid #c9ced4;border-radius:2.5px;box-sizing:border-box"></div>
<div style="position:absolute;left:194.2px;top:93.6px;width:20.6px;height:20.4px;background:#f8f9f9;border:1px solid #c9ced4;border-radius:2.5px 0 0 2.5px;box-sizing:border-box"></div>
<div style="position:absolute;left:344.2px;top:93.4px;width:20.6px;height:20.6px;background:#d5d9dd;border-radius:2.5px"></div>
<div style="position:absolute;left:370.9px;top:93.4px;width:60.0px;height:20.6px;background:#fff;border:1px solid #65707e;border-radius:3px;box-sizing:border-box"></div>
<div style="position:absolute;left:193.3px;top:419.4px;width:240.0px;height:33.0px;background:#f8f9f9;border-top:1px solid #eceef0;box-sizing:border-box"></div>
<div style="position:absolute;left:193.3px;top:419.4px;width:1.0px;height:210.0px;background:#eceef0"></div>
<div style="position:absolute;left:193.3px;top:452.0px;width:240.0px;height:1.0px;background:#eceef0"></div>
<div style="position:absolute;left:193.3px;top:481.3px;width:240.0px;height:1.0px;background:#eceef0"></div>
<div style="position:absolute;left:193.3px;top:510.3px;width:240.0px;height:1.0px;background:#eceef0"></div>
<div style="position:absolute;left:193.3px;top:539.0px;width:240.0px;height:1.0px;background:#eceef0"></div>
<div style="position:absolute;left:193.3px;top:568.0px;width:240.0px;height:1.0px;background:#eceef0"></div>
<div style="position:absolute;left:193.3px;top:596.9px;width:240.0px;height:1.0px;background:#eceef0"></div>
<svg style="position:absolute;left:0;top:0" width="440" height="626" viewBox="1329.0 196.8 440 626">
<rect x="1558.6" y="364.5" width="657.4" height="1.5" fill="#f8faf9"/>
<rect x="1558.6" y="364.5" width="96.8" height="112.4" fill="#f8faf9"/>
<rect x="1559.4" y="497.0" width="96.0" height="50.7" fill="#f8faf9"/>
<line x1="1655.4" x2="2216.0" y1="387.4" y2="387.4" stroke="#f5f6f7" stroke-width="1"/>
<line x1="1655.4" x2="2216.0" y1="409.7" y2="409.7" stroke="#f5f6f7" stroke-width="1"/>
<line x1="1655.4" x2="2216.0" y1="432.1" y2="432.1" stroke="#f5f6f7" stroke-width="1"/>
<line x1="1655.4" x2="2216.0" y1="454.5" y2="454.5" stroke="#f5f6f7" stroke-width="1"/>
<line x1="1934.6" x2="1934.6" y1="366.0" y2="476.9" stroke="#f5f6f7" stroke-width="1"/>
<line x1="1934.6" x2="1934.6" y1="497.0" y2="547.7" stroke="#f5f6f7" stroke-width="1"/>
<line x1="2028.4" x2="2028.4" y1="366.0" y2="476.9" stroke="#f5f6f7" stroke-width="1"/>
<line x1="2028.4" x2="2028.4" y1="497.0" y2="547.7" stroke="#f5f6f7" stroke-width="1"/>
<line x1="2122.2" x2="2122.2" y1="366.0" y2="476.9" stroke="#f5f6f7" stroke-width="1"/>
<line x1="2122.2" x2="2122.2" y1="497.0" y2="547.7" stroke="#f5f6f7" stroke-width="1"/>
<rect x="1745.5" y="365.0" width="94.5" height="111.9" fill="#d8dbdf"/>
<rect x="1745.5" y="497.0" width="94.5" height="50.7" fill="#f8faf9"/>
<line x1="1558.6" x2="2216.0" y1="476.9" y2="476.9" stroke="#e6e9eb" stroke-width="1"/>
<line x1="2216.0" x2="2216.0" y1="365.0" y2="476.9" stroke="#e2e5e9" stroke-width="1.2"/>
<line x1="1559.4" x2="2217.4" y1="497.0" y2="497.0" stroke="#eef0f2" stroke-width="1"/>
<line x1="1559.4" x2="1559.4" y1="497.0" y2="547.7" stroke="#e3e6e9" stroke-width="1"/>
<path d="M1559.51 547.7V528.5H1563.76V547.7ZM1563.80 547.7V531.0H1568.05V547.7ZM1568.09 547.7V527.7H1572.34V547.7ZM1572.37 547.7V529.2H1576.63V547.7ZM1576.66 547.7V527.7H1580.92V547.7ZM1580.95 547.7V516.5H1585.21V547.7ZM1585.24 547.7V516.5H1589.50V547.7ZM1589.53 547.7V516.5H1593.79V547.7ZM1593.82 547.7V516.5H1598.08V547.7ZM1598.11 547.7V516.5H1602.36V547.7ZM1602.40 547.7V516.5H1606.65V547.7ZM1606.69 547.7V521.4H1610.94V547.7ZM1610.98 547.7V521.4H1615.23V547.7ZM1615.26 547.7V521.4H1619.52V547.7ZM1619.55 547.7V521.4H1623.81V547.7ZM1623.84 547.7V521.4H1628.10V547.7ZM1628.13 547.7V521.4H1632.39V547.7ZM1632.42 547.7V521.4H1636.68V547.7ZM1636.71 547.7V516.5H1640.97V547.7ZM1641.00 547.7V516.5H1645.25V547.7ZM1645.29 547.7V516.5H1649.54V547.7ZM1649.58 547.7V516.5H1653.83V547.7ZM1653.87 547.7V523.3H1658.12V547.7ZM1658.15 547.7V528.5H1662.41V547.7ZM1662.44 547.7V531.0H1666.70V547.7ZM1666.73 547.7V527.7H1670.99V547.7ZM1671.02 547.7V529.2H1675.28V547.7ZM1675.31 547.7V527.7H1679.57V547.7ZM1679.60 547.7V521.4H1683.86V547.7ZM1683.89 547.7V521.4H1688.14V547.7ZM1688.18 547.7V521.4H1692.43V547.7ZM1692.47 547.7V521.4H1696.72V547.7ZM1696.76 547.7V521.4H1701.01V547.7ZM1701.05 547.7V521.4H1705.30V547.7ZM1705.33 547.7V521.4H1709.59V547.7ZM1709.62 547.7V518.7H1713.88V547.7ZM1713.91 547.7V518.7H1718.17V547.7ZM1718.20 547.7V518.7H1722.46V547.7ZM1722.49 547.7V518.7H1726.75V547.7ZM1726.78 547.7V518.7H1731.04V547.7ZM1731.07 547.7V518.7H1735.32V547.7ZM1735.36 547.7V516.5H1739.61V547.7ZM1739.65 547.7V516.5H1743.90V547.7ZM1743.94 547.7V516.5H1748.19V547.7ZM1748.22 547.7V516.5H1752.48V547.7ZM1752.51 547.7V523.3H1756.77V547.7ZM1756.80 547.7V534.7H1761.06V547.7ZM1761.09 547.7V537.4H1765.35V547.7ZM1765.38 547.7V533.2H1769.64V547.7ZM1769.67 547.7V534.7H1773.93V547.7ZM1773.96 547.7V533.2H1778.21V547.7ZM1778.25 547.7V526.1H1782.50V547.7ZM1782.54 547.7V526.1H1786.79V547.7ZM1786.83 547.7V526.1H1791.08V547.7ZM1791.11 547.7V526.1H1795.37V547.7ZM1795.40 547.7V528.0H1799.66V547.7ZM1799.69 547.7V528.0H1803.95V547.7ZM1803.98 547.7V528.0H1808.24V547.7ZM1808.27 547.7V528.0H1812.53V547.7ZM1812.56 547.7V528.0H1816.82V547.7ZM1816.85 547.7V528.0H1821.10V547.7ZM1821.14 547.7V528.0H1825.39V547.7ZM1825.43 547.7V528.0H1829.68V547.7ZM1829.72 547.7V526.1H1833.97V547.7ZM1834.00 547.7V526.1H1838.26V547.7ZM1838.29 547.7V526.1H1842.55V547.7ZM1842.58 547.7V526.1H1846.84V547.7ZM1846.87 547.7V526.1H1851.13V547.7ZM1851.16 547.7V529.8H1855.42V547.7ZM1855.45 547.7V532.8H1859.71V547.7ZM1859.74 547.7V534.7H1863.99V547.7ZM1864.03 547.7V531.7H1868.28V547.7ZM1868.32 547.7V532.8H1872.57V547.7ZM1872.61 547.7V531.7H1876.86V547.7ZM1876.89 547.7V523.3H1881.15V547.7ZM1881.18 547.7V523.3H1885.44V547.7ZM1885.47 547.7V526.1H1889.73V547.7ZM1889.76 547.7V526.1H1894.02V547.7ZM1894.05 547.7V526.1H1898.31V547.7ZM1898.34 547.7V526.1H1902.60V547.7ZM1902.63 547.7V526.1H1906.88V547.7ZM1906.92 547.7V523.3H1911.17V547.7ZM1911.21 547.7V523.3H1915.46V547.7ZM1915.50 547.7V523.3H1919.75V547.7ZM1919.78 547.7V526.1H1924.04V547.7ZM1924.07 547.7V526.1H1928.33V547.7ZM1928.36 547.7V526.1H1932.62V547.7ZM1932.65 547.7V526.1H1936.91V547.7ZM1936.94 547.7V523.3H1941.20V547.7ZM1941.23 547.7V523.3H1945.49V547.7ZM1945.52 547.7V522.6H1949.77V547.7ZM1949.81 547.7V528.0H1954.06V547.7ZM1954.10 547.7V534.7H1958.35V547.7ZM1958.39 547.7V537.4H1962.64V547.7ZM1962.68 547.7V533.2H1966.93V547.7ZM1966.96 547.7V534.7H1971.22V547.7ZM1971.25 547.7V533.2H1975.51V547.7ZM1975.54 547.7V526.1H1979.80V547.7ZM1979.79 547.7V526.1H1984.05V547.7ZM1984.05 547.7V526.1H1988.31V547.7ZM1988.31 547.7V526.1H1992.56V547.7ZM1992.56 547.7V526.1H1996.82V547.7ZM1996.82 547.7V528.0H2001.07V547.7ZM2001.07 547.7V528.0H2005.33V547.7ZM2005.33 547.7V528.0H2009.58V547.7ZM2009.58 547.7V528.0H2013.84V547.7ZM2013.84 547.7V526.1H2018.10V547.7ZM2018.10 547.7V526.1H2022.35V547.7ZM2022.35 547.7V526.1H2026.61V547.7ZM2026.61 547.7V528.0H2030.86V547.7ZM2030.86 547.7V528.0H2035.12V547.7ZM2035.12 547.7V528.0H2039.38V547.7ZM2039.38 547.7V526.1H2043.63V547.7ZM2043.63 547.7V526.1H2047.89V547.7ZM2047.89 547.7V529.8H2052.14V547.7ZM2052.14 547.7V532.8H2056.40V547.7ZM2056.40 547.7V534.7H2060.65V547.7ZM2060.65 547.7V531.7H2064.91V547.7ZM2064.91 547.7V532.8H2069.17V547.7ZM2069.17 547.7V531.7H2073.42V547.7ZM2073.42 547.7V523.3H2077.68V547.7ZM2077.68 547.7V523.3H2081.93V547.7ZM2081.93 547.7V528.0H2086.19V547.7ZM2086.19 547.7V528.0H2090.44V547.7ZM2090.44 547.7V528.0H2094.70V547.7ZM2094.70 547.7V528.0H2098.96V547.7ZM2098.96 547.7V523.3H2103.21V547.7ZM2103.21 547.7V523.3H2107.47V547.7ZM2107.47 547.7V523.3H2111.72V547.7ZM2111.72 547.7V529.2H2115.98V547.7ZM2115.98 547.7V528.5H2120.24V547.7ZM2120.24 547.7V529.2H2124.49V547.7ZM2124.49 547.7V528.5H2128.75V547.7ZM2128.75 547.7V529.2H2133.00V547.7ZM2133.00 547.7V523.3H2137.26V547.7ZM2137.26 547.7V523.3H2141.51V547.7ZM2141.51 547.7V522.6H2145.77V547.7ZM2145.77 547.7V528.0H2150.03V547.7ZM2150.03 547.7V531.7H2154.28V547.7ZM2154.28 547.7V532.8H2158.54V547.7ZM2158.54 547.7V531.7H2162.79V547.7ZM2162.79 547.7V523.3H2167.05V547.7ZM2167.05 547.7V523.3H2171.30V547.7ZM2171.30 547.7V526.1H2175.56V547.7ZM2175.56 547.7V526.1H2179.82V547.7ZM2179.82 547.7V523.3H2184.07V547.7ZM2184.07 547.7V526.1H2188.33V547.7ZM2188.33 547.7V523.3H2192.58V547.7ZM2192.58 547.7V523.3H2196.84V547.7ZM2196.84 547.7V528.0H2201.10V547.7ZM2201.10 547.7V528.0H2205.35V547.7ZM2205.35 547.7V528.0H2209.61V547.7ZM2209.61 547.7V528.0H2213.86V547.7ZM2213.86 547.7V528.0H2218.12V547.7Z" fill="#fff"/>
<path d="M1559.92 547.7V529.1H1563.35V547.7ZM1564.21 547.7V531.6H1567.64V547.7ZM1568.50 547.7V528.4H1571.93V547.7ZM1572.79 547.7V529.9H1576.22V547.7ZM1577.08 547.7V528.4H1580.50V547.7ZM1581.37 547.7V517.1H1584.79V547.7ZM1585.66 547.7V517.1H1589.08V547.7ZM1589.95 547.7V517.1H1593.37V547.7ZM1594.23 547.7V517.1H1597.66V547.7ZM1598.52 547.7V517.1H1601.95V547.7ZM1602.81 547.7V517.1H1606.24V547.7ZM1607.10 547.7V522.0H1610.53V547.7ZM1611.39 547.7V522.0H1614.82V547.7ZM1615.68 547.7V522.0H1619.11V547.7ZM1619.97 547.7V522.0H1623.39V547.7ZM1624.26 547.7V522.0H1627.68V547.7ZM1628.55 547.7V522.0H1631.97V547.7ZM1632.84 547.7V522.0H1636.26V547.7ZM1637.13 547.7V517.1H1640.55V547.7ZM1641.41 547.7V517.1H1644.84V547.7ZM1645.70 547.7V517.1H1649.13V547.7ZM1649.99 547.7V517.1H1653.42V547.7ZM1654.28 547.7V523.9H1657.71V547.7ZM1658.57 547.7V529.1H1662.00V547.7ZM1662.86 547.7V531.6H1666.28V547.7ZM1667.15 547.7V528.4H1670.57V547.7ZM1671.44 547.7V529.9H1674.86V547.7ZM1675.73 547.7V528.4H1679.15V547.7ZM1680.02 547.7V522.0H1683.44V547.7ZM1684.30 547.7V522.0H1687.73V547.7ZM1688.59 547.7V522.0H1692.02V547.7ZM1692.88 547.7V522.0H1696.31V547.7ZM1697.17 547.7V522.0H1700.60V547.7ZM1701.46 547.7V522.0H1704.89V547.7ZM1705.75 547.7V522.0H1709.17V547.7ZM1710.04 547.7V519.3H1713.46V547.7ZM1714.33 547.7V519.3H1717.75V547.7ZM1718.62 547.7V519.3H1722.04V547.7ZM1722.91 547.7V519.3H1726.33V547.7ZM1727.19 547.7V519.3H1730.62V547.7ZM1731.48 547.7V519.3H1734.91V547.7ZM1735.77 547.7V517.1H1739.20V547.7ZM1740.06 547.7V517.1H1743.49V547.7ZM1744.35 547.7V517.1H1747.78V547.7ZM1748.64 547.7V517.1H1752.06V547.7ZM1752.93 547.7V523.9H1756.35V547.7ZM1757.22 547.7V535.3H1760.64V547.7ZM1761.51 547.7V538.0H1764.93V547.7ZM1765.80 547.7V533.9H1769.22V547.7ZM1770.08 547.7V535.3H1773.51V547.7ZM1774.37 547.7V533.9H1777.80V547.7ZM1778.66 547.7V526.7H1782.09V547.7ZM1782.95 547.7V526.7H1786.38V547.7ZM1787.24 547.7V526.7H1790.67V547.7ZM1791.53 547.7V526.7H1794.96V547.7ZM1795.82 547.7V528.7H1799.24V547.7ZM1800.11 547.7V528.7H1803.53V547.7ZM1804.40 547.7V528.7H1807.82V547.7ZM1808.69 547.7V528.7H1812.11V547.7ZM1812.97 547.7V528.7H1816.40V547.7ZM1817.26 547.7V528.7H1820.69V547.7ZM1821.55 547.7V528.7H1824.98V547.7ZM1825.84 547.7V528.7H1829.27V547.7ZM1830.13 547.7V526.7H1833.56V547.7ZM1834.42 547.7V526.7H1837.85V547.7ZM1838.71 547.7V526.7H1842.13V547.7ZM1843.00 547.7V526.7H1846.42V547.7ZM1847.29 547.7V526.7H1850.71V547.7ZM1851.58 547.7V530.5H1855.00V547.7ZM1855.86 547.7V533.4H1859.29V547.7ZM1860.15 547.7V535.3H1863.58V547.7ZM1864.44 547.7V532.4H1867.87V547.7ZM1868.73 547.7V533.4H1872.16V547.7ZM1873.02 547.7V532.4H1876.45V547.7ZM1877.31 547.7V523.9H1880.74V547.7ZM1881.60 547.7V523.9H1885.02V547.7ZM1885.89 547.7V526.7H1889.31V547.7ZM1890.18 547.7V526.7H1893.60V547.7ZM1894.47 547.7V526.7H1897.89V547.7ZM1898.76 547.7V526.7H1902.18V547.7ZM1903.04 547.7V526.7H1906.47V547.7ZM1907.33 547.7V523.9H1910.76V547.7ZM1911.62 547.7V523.9H1915.05V547.7ZM1915.91 547.7V523.9H1919.34V547.7ZM1920.20 547.7V526.7H1923.63V547.7ZM1924.49 547.7V526.7H1927.91V547.7ZM1928.78 547.7V526.7H1932.20V547.7ZM1933.07 547.7V526.7H1936.49V547.7ZM1937.36 547.7V523.9H1940.78V547.7ZM1941.65 547.7V523.9H1945.07V547.7ZM1945.93 547.7V523.2H1949.36V547.7ZM1950.22 547.7V528.7H1953.65V547.7ZM1954.51 547.7V535.3H1957.94V547.7ZM1958.80 547.7V538.0H1962.23V547.7ZM1963.09 547.7V533.9H1966.52V547.7ZM1967.38 547.7V535.3H1970.80V547.7ZM1971.67 547.7V533.9H1975.09V547.7ZM1975.96 547.7V526.7H1979.38V547.7ZM1980.21 547.7V526.7H1983.63V547.7ZM1984.46 547.7V526.7H1987.89V547.7ZM1988.72 547.7V526.7H1992.15V547.7ZM1992.98 547.7V526.7H1996.40V547.7ZM1997.23 547.7V528.7H2000.66V547.7ZM2001.49 547.7V528.7H2004.91V547.7ZM2005.74 547.7V528.7H2009.17V547.7ZM2010.00 547.7V528.7H2013.42V547.7ZM2014.26 547.7V526.7H2017.68V547.7ZM2018.51 547.7V526.7H2021.94V547.7ZM2022.77 547.7V526.7H2026.19V547.7ZM2027.02 547.7V528.7H2030.45V547.7ZM2031.28 547.7V528.7H2034.70V547.7ZM2035.53 547.7V528.7H2038.96V547.7ZM2039.79 547.7V526.7H2043.22V547.7ZM2044.05 547.7V526.7H2047.47V547.7ZM2048.30 547.7V530.5H2051.73V547.7ZM2052.56 547.7V533.4H2055.98V547.7ZM2056.81 547.7V535.3H2060.24V547.7ZM2061.07 547.7V532.4H2064.49V547.7ZM2065.32 547.7V533.4H2068.75V547.7ZM2069.58 547.7V532.4H2073.01V547.7ZM2073.84 547.7V523.9H2077.26V547.7ZM2078.09 547.7V523.9H2081.52V547.7ZM2082.35 547.7V528.7H2085.77V547.7ZM2086.60 547.7V528.7H2090.03V547.7ZM2090.86 547.7V528.7H2094.29V547.7ZM2095.12 547.7V528.7H2098.54V547.7ZM2099.37 547.7V523.9H2102.80V547.7ZM2103.63 547.7V523.9H2107.05V547.7ZM2107.88 547.7V523.9H2111.31V547.7ZM2112.14 547.7V529.9H2115.56V547.7ZM2116.39 547.7V529.1H2119.82V547.7ZM2120.65 547.7V529.9H2124.08V547.7ZM2124.91 547.7V529.1H2128.33V547.7ZM2129.16 547.7V529.9H2132.59V547.7ZM2133.42 547.7V523.9H2136.84V547.7ZM2137.67 547.7V523.9H2141.10V547.7ZM2141.93 547.7V523.2H2145.35V547.7ZM2146.19 547.7V528.7H2149.61V547.7ZM2150.44 547.7V532.4H2153.87V547.7ZM2154.70 547.7V533.4H2158.12V547.7ZM2158.95 547.7V532.4H2162.38V547.7ZM2163.21 547.7V523.9H2166.63V547.7ZM2167.46 547.7V523.9H2170.89V547.7ZM2171.72 547.7V526.7H2175.15V547.7ZM2175.98 547.7V526.7H2179.40V547.7ZM2180.23 547.7V523.9H2183.66V547.7ZM2184.49 547.7V526.7H2187.91V547.7ZM2188.74 547.7V523.9H2192.17V547.7ZM2193.00 547.7V523.9H2196.42V547.7ZM2197.25 547.7V528.7H2200.68V547.7ZM2201.51 547.7V528.7H2204.94V547.7ZM2205.77 547.7V528.7H2209.19V547.7ZM2210.02 547.7V528.7H2213.45V547.7ZM2214.28 547.7V528.7H2217.70V547.7Z" fill="#d6c000"/>
<line x1="1559.4" x2="2217.4" y1="519.8" y2="519.8" stroke="#ffffff" stroke-opacity="0.5" stroke-width="1.2"/>
<polyline points="1559.3,414.8 1563.6,407.8 1568.4,395.5 1573.8,381.9 1577.3,380.8 1581.9,375.2 1585.6,378.9 1588.3,384.6 1592.6,387.1 1595.8,391.2 1601.2,393.9 1606.5,408.9 1615.6,415.1 1618.9,421.0 1622.6,421.2 1626.1,426.4 1630.2,426.4 1633.9,423.9 1637.4,423.9 1641.2,427.5 1644.6,426.4 1648.7,423.9 1652.2,426.1 1655.9,415.9 1659.6,406.3 1663.9,398.7 1666.8,387.8 1670.9,396.6 1674.4,406.7 1677.9,400.3 1681.9,391.2 1685.5,397.6 1688.6,401.1 1692.9,404.9 1700.5,419.7 1707.9,426.1 1711.7,431.4 1715.3,431.8 1719.0,436.4 1722.8,436.4 1726.3,433.9 1729.9,434.1 1733.8,437.8 1737.4,436.4 1741.0,434.1 1744.8,436.2 1749.6,425.5 1754.7,413.7 1758.2,413.7 1761.4,412.3 1767.5,398.9 1772.6,411.9 1775.9,412.3 1781.8,419.1 1786.6,419.9 1789.8,422.8 1792.0,429.8 1801.4,436.4 1804.3,442.5 1808.1,435.7 1811.5,441.1 1815.1,441.3 1819.4,438.4 1822.6,438.4 1826.3,442.1 1829.5,441.3 1833.8,438.6 1837.6,441.1 1841.4,431.8 1844.8,430.0 1849.7,422.3 1852.4,421.2 1859.6,427.1 1863.7,421.5 1867.3,419.1 1871.1,421.2 1874.6,417.2 1878.4,424.4 1882.3,426.8 1885.9,434.7 1893.0,441.1 1896.9,446.6 1900.7,447.0 1904.5,451.6 1908.2,451.6 1911.9,449.3 1915.5,449.3 1919.3,452.8 1922.4,452.0 1926.7,449.4 1930.4,451.4 1934.8,445.9 1939.1,448.3 1940.2,445.9 1943.6,445.6 1947.4,444.6 1953.0,448.3 1958.4,444.8 1961.4,444.8 1967.0,449.9 1972.6,450.7 1974.8,452.5 1977.1,448.1 1986.5,453.1 1989.8,457.7 1993.7,452.8 1997.3,456.6 2000.5,456.6 2004.8,454.5 2008.3,454.5 2012.1,457.5 2015.5,456.6 2019.6,454.5 2023.3,456.3 2027.4,443.8 2030.6,435.1 2033.9,429.4 2037.3,427.5 2041.1,432.0 2044.5,436.2 2048.1,431.4 2051.8,427.5 2055.3,427.5 2058.8,431.2 2062.9,434.9 2069.5,449.6 2076.5,456.1 2080.4,461.7 2084.0,461.9 2087.8,466.8 2091.0,466.8 2095.0,464.4 2098.3,464.4 2101.9,468.1 2105.5,467.0 2109.2,464.6 2112.2,466.6 2116.2,458.2 2121.9,443.8 2125.6,443.5 2128.9,442.1 2133.9,447.0 2139.3,442.1 2142.5,442.1 2147.6,448.9 2152.7,449.9 2155.2,452.3 2157.5,459.8 2166.1,466.2 2169.4,472.2 2173.3,465.7 2176.6,470.9 2179.9,470.9 2183.6,468.4 2187.2,468.4 2190.8,472.0 2193.9,470.9 2197.7,468.2 2201.2,470.9" fill="none" stroke="#10aa73" stroke-width="1.5" stroke-linejoin="round" stroke-linecap="round"/>
<polyline points="1560.3,388.2 1563.9,389.9 1567.3,388.2 1571.1,387.8 1574.3,389.9 1578.3,389.9 1581.9,388.2 1585.6,388.2 1589.1,391.2 1592.9,387.5 1595.8,391.0 1604.7,394.4 1607.0,398.7 1609.2,400.3 1614.6,401.2 1620.5,405.1 1623.2,405.4 1628.5,402.5 1634.5,405.4 1637.6,404.4 1641.4,404.3 1646.8,396.0 1651.1,391.0 1654.8,392.3 1658.0,390.8 1661.5,390.2 1665.6,392.3 1669.3,392.3 1673.1,390.9 1676.3,390.9 1680.1,393.6 1683.3,393.3 1687.6,397.1 1695.1,401.4 1702.1,409.6 1705.8,411.6 1709.6,413.7 1713.5,413.7 1716.5,412.1 1720.3,408.7 1727.6,413.7 1731.1,412.7 1735.1,408.9 1741.7,396.8 1745.8,397.9 1749.0,396.8 1752.6,396.2 1757.1,398.2 1760.3,398.2 1764.1,396.9 1768.4,396.9 1771.6,399.3 1775.3,396.0 1779.1,398.9 1787.7,401.7 1790.9,399.3 1793.1,400.1 1798.5,400.7 1804.9,403.8 1807.5,403.8 1812.4,401.7 1814.5,402.0 1818.8,403.8 1822.1,403.2 1825.8,403.2 1827.7,401.6 1831.7,403.2 1836.5,399.6 1840.3,401.2 1844.1,399.6 1847.8,398.9 1851.5,401.1 1855.3,401.2 1859.1,399.6 1862.8,399.6 1866.8,402.5 1870.4,402.5 1874.8,406.1 1881.4,409.2 1885.4,413.9 1889.1,415.3 1893.2,419.9 1896.9,417.2 1900.7,418.6 1904.1,417.4 1908.6,413.7 1916.2,417.2 1918.7,417.0 1923.8,412.1 1927.5,411.2 1931.2,405.9 1935.1,407.3 1939.3,405.7 1942.5,405.1 1946.3,407.3 1950.1,407.3 1954.4,405.7 1957.8,405.7 1961.0,408.7 1965.1,404.9 1968.5,408.4 1977.1,411.6 1980.7,416.8 1982.8,417.8 1988.2,418.3 1994.1,422.3 1997.3,422.3 2002.7,429.8 2008.5,422.1 2011.8,421.2 2015.9,421.2 2025.8,408.6 2029.5,409.6 2033.3,408.4 2036.6,407.8 2041.1,410.0 2044.6,410.0 2048.5,408.4 2052.1,408.4 2056.1,411.2 2059.8,411.4 2063.6,414.8 2071.1,418.2 2078.1,426.4 2083.5,428.7 2086.1,430.6 2090.4,434.7 2097.6,426.1 2101.5,432.5 2105.5,436.8 2109.0,430.4 2113.5,425.5 2120.2,414.8 2124.5,416.2 2128.3,414.6 2132.0,414.1 2135.9,416.2 2139.3,416.2 2143.6,414.6 2147.0,414.6 2150.5,417.7 2154.6,417.7 2158.1,421.2 2167.0,424.8 2172.6,433.0 2176.8,434.7 2181.7,437.6 2186.0,439.1 2188.8,442.0 2192.5,444.3 2196.7,441.4 2200.7,440.3 2202.9,437.8 2206.6,432.0 2210.9,426.1 2215.4,421.2" fill="none" stroke="#0c3cc0" stroke-width="1.5" stroke-linejoin="round" stroke-linecap="round"/>
<text x="1540.5" y="367.0" font-size="8.8" fill="#6b7582" textLength="8.8" lengthAdjust="spacingAndGlyphs">50</text>
<text x="1540.5" y="388.9" font-size="8.8" fill="#6b7582" textLength="8.8" lengthAdjust="spacingAndGlyphs">40</text>
<text x="1540.5" y="411.6" font-size="8.8" fill="#6b7582" textLength="8.8" lengthAdjust="spacingAndGlyphs">30</text>
<text x="1540.5" y="433.7" font-size="8.8" fill="#6b7582" textLength="8.8" lengthAdjust="spacingAndGlyphs">20</text>
<text x="1540.5" y="455.9" font-size="8.8" fill="#6b7582" textLength="8.8" lengthAdjust="spacingAndGlyphs">10</text>
<text x="1540.9" y="499.3" font-size="8.8" fill="#6b7582" textLength="8.9" lengthAdjust="spacingAndGlyphs">20</text>
<text x="1541.1" y="522.8" font-size="8.8" fill="#6b7582" textLength="8.7" lengthAdjust="spacingAndGlyphs">10</text>
<text transform="translate(1533.0,420) rotate(-90)" font-size="8.6" fill="#6b7582" text-anchor="middle" textLength="15.3" lengthAdjust="spacingAndGlyphs">CVO</text>
<text transform="translate(1533.6,525.4) rotate(-90)" font-size="8.6" fill="#6b7582" text-anchor="middle" textLength="23.6" lengthAdjust="spacingAndGlyphs">STAFF</text>
<text x="1585.0" y="564.1" font-size="8.6" fill="#6b7582" textLength="34.7" lengthAdjust="spacingAndGlyphs">Sun, Jul 1</text>
<text x="1682.4" y="564.1" font-size="8.6" fill="#6b7582" textLength="37.0" lengthAdjust="spacingAndGlyphs">Mon, Jul 2</text>
<circle cx="1343.4" cy="208.8" r="1.05" fill="#fff"/>
<circle cx="1343.4" cy="211.8" r="1.05" fill="#fff"/>
<circle cx="1343.4" cy="214.7" r="1.05" fill="#fff"/>
<text x="1345.8" y="216.8" font-size="18" font-weight="bold" fill="#fff" textLength="5.6" lengthAdjust="spacingAndGlyphs">t</text>
<g fill="none" stroke="#e8e6f0" stroke-width="1.1" stroke-linecap="round" stroke-linejoin="round"><path d="M1373.0 213.3v-3.6a3.1 3.1 0 0 1 6.2 0v3.6"/><path d="M1371.8 213.6h8.6"/><path d="M1375.2 215.6h1.8"/><path d="M1376.1 206.6v-1.4M1375 205h2.200"/></g>
<path d="M1377.1 206.800h4.200v3.200l-2.100 2.300-2.100-2.300z" fill="#e6c200"/>
<g fill="none" stroke="#2a2f3e" stroke-width="1.3" stroke-linejoin="round" stroke-linecap="round"><path d="M1342.5 249.4V243.2L1347 239.200L1351.500 243.200V249.400H1349.200V246.400a2.200 2.200 0 0 0-4.400 0V249.400Z"/><circle cx="1347" cy="270.900" r="1.900"/>
<path d="M1347.00 264.90L1347.52 264.92L1348.02 265.11L1348.35 265.88L1348.55 266.65L1348.86 266.91L1349.20 267.09L1349.52 267.30L1349.91 267.44L1350.68 267.22L1351.50 267.12L1351.91 267.46L1352.20 267.90L1352.44 268.36L1352.53 268.89L1352.02 269.55L1351.45 270.12L1351.38 270.52L1351.40 270.90L1351.38 271.28L1351.45 271.68L1352.02 272.25L1352.53 272.91L1352.44 273.44L1352.20 273.90L1351.91 274.34L1351.50 274.68L1350.68 274.58L1349.91 274.36L1349.52 274.50L1349.20 274.71L1348.86 274.89L1348.55 275.15L1348.35 275.92L1348.02 276.69L1347.52 276.88L1347.00 276.90L1346.48 276.88L1345.98 276.69L1345.65 275.92L1345.45 275.15L1345.14 274.89L1344.80 274.71L1344.48 274.50L1344.09 274.36L1343.32 274.58L1342.50 274.68L1342.09 274.34L1341.80 273.90L1341.56 273.44L1341.47 272.91L1341.98 272.25L1342.55 271.68L1342.62 271.28L1342.60 270.90L1342.62 270.52L1342.55 270.12L1341.98 269.55L1341.47 268.89L1341.56 268.36L1341.80 267.90L1342.09 267.46L1342.50 267.12L1343.32 267.22L1344.09 267.44L1344.48 267.30L1344.80 267.09L1345.14 266.91L1345.45 266.65L1345.65 265.88L1345.98 265.11L1346.48 264.92Z"/>
<rect x="1343.900" y="292" width="6.400" height="2.400" rx="1.200" fill="#cfd4da"/><path d="M1347.100 294.600V297.400L1342.500 303.100M1347.100 297.400L1351.700 303.100"/><path d="M1341.900 300V303.500H1345.300M1352.300 300V303.500H1348.900"/><path d="M1342.700 320.200L1347.100 319.200L1351.500 320.200V325.300C1351.500 327.700 1349.500 328.900 1347.100 329.900C1344.700 328.900 1342.700 327.700 1342.700 325.300Z"/><path d="M1342.700 322.700H1351.500"/></g>
<circle cx="1347" cy="350.850" r="12.800" fill="#4a12a4"/>
<g fill="none" stroke="#fff" stroke-width="1.150" stroke-linecap="round"><path d="M1343 346.600Q1347.300 343.300 1351.700 346.600"/><circle cx="1344.100" cy="350.500" r="1.750"/><circle cx="1350.100" cy="350.500" r="1.750"/><path d="M1340.600 357.500Q1340.900 354 1344.100 354T1347.300 357.500"/><path d="M1347.300 357.500Q1347.200 354 1350.300 354T1353.800 357.500"/></g>
<circle cx="1342.93" cy="798.30" r="1.15" fill="#2a2a3a"/>
<circle cx="1342.93" cy="802.30" r="1.15" fill="#2a2a3a"/>
<circle cx="1342.93" cy="806.30" r="1.15" fill="#2a2a3a"/>
<circle cx="1347.00" cy="798.30" r="1.15" fill="#2a2a3a"/>
<circle cx="1347.00" cy="802.30" r="1.15" fill="#2a2a3a"/>
<circle cx="1347.00" cy="806.30" r="1.15" fill="#2a2a3a"/>
<circle cx="1351.07" cy="798.30" r="1.15" fill="#2a2a3a"/>
<circle cx="1351.07" cy="802.30" r="1.15" fill="#2a2a3a"/>
<circle cx="1351.07" cy="806.30" r="1.15" fill="#2a2a3a"/>
<g fill="none" stroke="#2a2f3e" stroke-width="1.25"><path d="M1503.500 242.600v4.900M1509 242.700L1506 245.050l3 2.350"/></g>
<text x="1378.2" y="251.9" font-size="12.6" fill="#262c39" textLength="55.7" lengthAdjust="spacingAndGlyphs" stroke="#262c39" stroke-width="0.45">Workforce</text>
<text x="1378.2" y="267.7" font-size="12.6" fill="#262c39" textLength="71.1" lengthAdjust="spacingAndGlyphs" stroke="#262c39" stroke-width="0.45">Management</text>
<text x="1378.2" y="301.7" font-size="9.2" fill="#3c0fa0" textLength="36.7" lengthAdjust="spacingAndGlyphs" font-weight="bold">Forecast</text>
<text x="1378.3" y="328.2" font-size="9.2" fill="#262c39" textLength="63.3" lengthAdjust="spacingAndGlyphs" font-weight="bold">Team schedule</text>
<text x="1378.3" y="354.8" font-size="9.2" fill="#262c39" textLength="33.3" lengthAdjust="spacingAndGlyphs" font-weight="bold">Insights</text>
<text x="1378.3" y="381.6" font-size="9.2" fill="#262c39" textLength="59.3" lengthAdjust="spacingAndGlyphs" font-weight="bold">Your schedule</text>
<text x="1378.3" y="408.2" font-size="9.2" fill="#262c39" textLength="61.5" lengthAdjust="spacingAndGlyphs" font-weight="bold">Configurations</text>
<text x="1521.7" y="260.4" font-size="18.4" fill="#1f2632" textLength="73.3" lengthAdjust="spacingAndGlyphs" stroke="#1f2632" stroke-width="0.6">Forecast</text>
<g fill="none" stroke="#1f2632" stroke-width="1.300"><rect x="1528.400" y="296.200" width="9.800" height="9.300" rx="0.800"/><path d="M1528.400 298.500h9.800" stroke-width="2"/><path d="M1530.800 294.300v2M1535.800 294.300v2"/></g>
<text x="1550.5" y="302.9" font-size="8.2" fill="#3f4652" textLength="42.7" lengthAdjust="spacingAndGlyphs">July 1, 2022</text>
<path d="M1685.100 297.400L1682.300 300.200L1685.100 303" fill="none" stroke="#1f2632" stroke-width="1.300"/>
<text x="1711.9" y="302.9" font-size="8.2" fill="#262c39" textLength="21.5" lengthAdjust="spacingAndGlyphs" font-weight="bold">Today</text>
<text x="1537.7" y="635.9" font-size="9.2" fill="#262c39" textLength="27.6" lengthAdjust="spacingAndGlyphs" font-weight="bold">7 days</text>
<text x="1537.7" y="666.9" font-size="9.2" fill="#262c39" textLength="20.6" lengthAdjust="spacingAndGlyphs" font-weight="bold">Days</text>
<text x="1705.5" y="666.9" font-size="9.2" fill="#262c39" textLength="18.7" lengthAdjust="spacingAndGlyphs" font-weight="bold">CVO</text>
<text x="1537.7" y="696.4" font-size="9.3" fill="#2d3441" textLength="44.3" lengthAdjust="spacingAndGlyphs">Sun, July 1</text>
<text x="1705.5" y="696.4" font-size="9.3" fill="#2d3441" textLength="49.7" lengthAdjust="spacingAndGlyphs">20 contacts</text>
<text x="1537.7" y="725.7" font-size="9.3" fill="#2d3441" textLength="47.8" lengthAdjust="spacingAndGlyphs">Mon, July 2</text>
<text x="1705.5" y="725.7" font-size="9.3" fill="#2d3441" textLength="49.7" lengthAdjust="spacingAndGlyphs">10 contacts</text>
<text x="1537.7" y="754.1" font-size="9.3" fill="#2d3441" textLength="44.1" lengthAdjust="spacingAndGlyphs">Tue, July 3</text>
<text x="1705.5" y="754.1" font-size="9.3" fill="#2d3441" textLength="49.7" lengthAdjust="spacingAndGlyphs">40 contacts</text>
<text x="1537.7" y="783.3" font-size="9.3" fill="#2d3441" textLength="47.3" lengthAdjust="spacingAndGlyphs">Wed, July 4</text>
<text x="1705.5" y="783.3" font-size="9.3" fill="#2d3441" textLength="49.7" lengthAdjust="spacingAndGlyphs">30 contacts</text>
<text x="1537.7" y="812.3" font-size="9.3" fill="#2d3441" textLength="44.9" lengthAdjust="spacingAndGlyphs">Thu, July 5</text>
<text x="1705.5" y="812.3" font-size="9.3" fill="#2d3441" textLength="49.7" lengthAdjust="spacingAndGlyphs">10 contacts</text>
<g><circle cx="1734.100" cy="663.700" r="3.900" fill="none" stroke="#2f0f9a" stroke-width="0.9"/><rect x="1733.700" y="663.100" width="0.800" height="2.600" fill="#2f0f9a"/><rect x="1733.700" y="661.500" width="0.800" height="0.900" fill="#2f0f9a"/></g>
</svg>
</div>
</body></html>
